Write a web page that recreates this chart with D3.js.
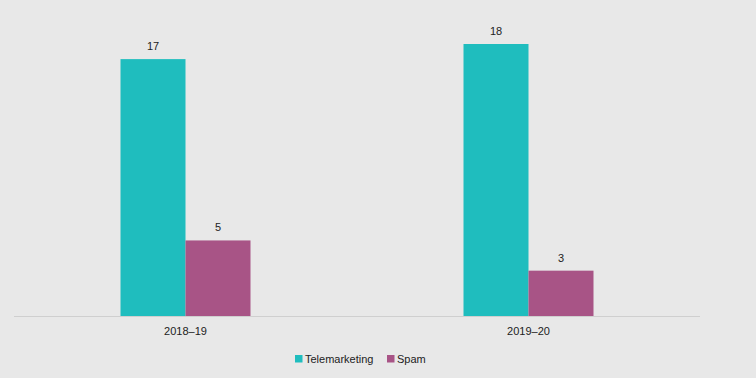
<!DOCTYPE html>
<html>
<head>
<meta charset="utf-8">
<script src="https://cdn.jsdelivr.net/npm/d3@7"></script>
<style>
  body { margin: 0; background: #e8e8e8; }
  svg { display: block; font-family: "Liberation Sans", Arial, sans-serif; }
</style>
</head>
<body>
<div id="chart"></div>
<script>
// data
const years = ["2018–19", "2019–20"];
const seriesNames = ["Telemarketing", "Spam"];
const telemarketing = [17, 18];
const spam = [5, 3];
const seriesColors = ["#1fbdbe", "#a85486"];

window.onload = function () {
  const width = 756, height = 378;
  const left = 14, right = 700, baseY = 316;

  const svg = d3.select("#chart").append("svg")
    .attr("width", width)
    .attr("height", height);

  svg.append("rect").attr("width", width).attr("height", height).attr("fill", "#e8e8e8");

  const rows = years.map((y, i) => ({ year: y, values: [telemarketing[i], spam[i]] }));

  const x = d3.scaleBand().domain(years).range([left, right]);
  const inner = d3.scaleBand().domain(seriesNames).range([0, 130]);
  const y = d3.scaleLinear().domain([0, 18]).range([baseY, 44]);

  const groups = svg.selectAll(".grp")
    .data(rows)
    .enter()
    .append("g")
    .attr("transform", (d) => `translate(${x(d.year) + x.bandwidth() / 2 - 65},0)`);

  const bars = groups.selectAll(".bar")
    .data((d) => d.values.map((v, i) => ({ name: seriesNames[i], value: v, color: seriesColors[i] })))
    .enter();

  bars.append("rect")
    .attr("x", (d) => inner(d.name))
    .attr("y", (d) => y(d.value))
    .attr("width", inner.bandwidth())
    .attr("height", (d) => baseY - y(d.value))
    .attr("fill", (d) => d.color);

  bars.append("text")
    .attr("x", (d) => inner(d.name) + inner.bandwidth() / 2)
    .attr("y", (d) => y(d.value) - 9)
    .attr("text-anchor", "middle")
    .attr("font-size", "11px")
    .attr("fill", "#222")
    .text((d) => d.value);

  // baseline
  svg.append("line")
    .attr("x1", left).attr("x2", right)
    .attr("y1", baseY + 0.5).attr("y2", baseY + 0.5)
    .attr("stroke", "#cfcfcf")
    .attr("stroke-width", 1);

  // category labels
  svg.selectAll(".xLabel")
    .data(years)
    .enter()
    .append("text")
    .attr("x", (d) => x(d) + x.bandwidth() / 2)
    .attr("y", 335)
    .attr("text-anchor", "middle")
    .attr("font-size", "11px")
    .attr("fill", "#222")
    .text((d) => d);

  // legend
  const legendX = [295, 387];
  const legend = svg.selectAll(".legend")
    .data(seriesNames)
    .enter()
    .append("g")
    .attr("transform", (d, i) => `translate(${legendX[i]},355)`);

  legend.append("rect")
    .attr("width", 7.5)
    .attr("height", 7.5)
    .attr("fill", (d, i) => seriesColors[i]);

  legend.append("text")
    .attr("x", 10)
    .attr("y", 7.5)
    .attr("font-size", "11px")
    .attr("fill", "#222")
    .text((d) => d);
};
</script>
</body>
</html>
